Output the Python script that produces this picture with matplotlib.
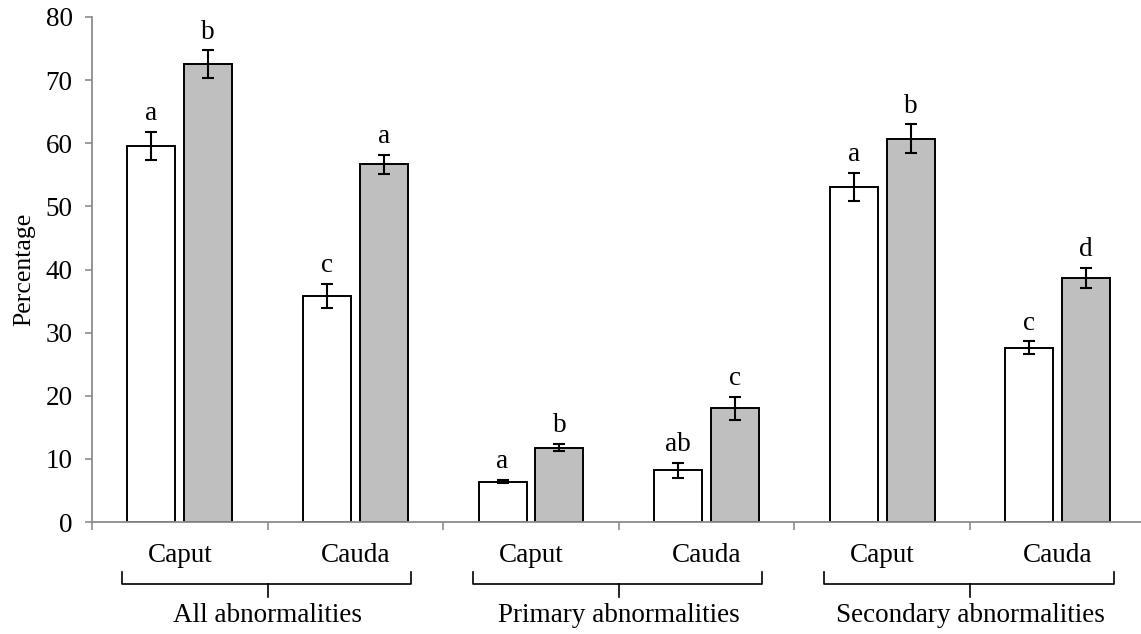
import matplotlib
matplotlib.use("Agg")
import matplotlib.pyplot as plt
import numpy as np

plt.rcParams['font.family'] = ['Liberation Serif', 'DejaVu Serif']

groups = ["All abnormalities", "Primary abnormalities", "Secondary abnormalities"]
regions = ["Caput", "Cauda", "Caput", "Cauda", "Caput", "Cauda"]
white_vals = [59.6, 35.8, 6.4, 8.2, 53.1, 27.6]
white_err = [2.2, 1.9, 0.3, 1.2, 2.2, 1.0]
grey_vals = [72.5, 56.7, 11.8, 18.0, 60.7, 38.6]
grey_err = [2.2, 1.5, 0.6, 1.8, 2.3, 1.6]
white_letters = ["a", "c", "a", "ab", "a", "c"]
grey_letters = ["b", "a", "b", "c", "b", "d"]
yticks = [0, 10, 20, 30, 40, 50, 60, 70, 80]

FS = 19.5
W, H = 1141, 634
fig = plt.figure(figsize=(W / 100, H / 100), dpi=100)
ax_left, ax_bottom = 92 / W, 1 - 522 / H
ax_right = 1145.6 / W
ax_top = 1 - 17 / H
ax = fig.add_axes([ax_left, ax_bottom, ax_right - ax_left, ax_top - ax_bottom])

x = np.arange(len(regions)) + 0.5
off = 0.162
bw = 0.273
axis_grey = "#8c8c8c"

ax.bar(x - off, white_vals, bw, color="white", edgecolor="black", linewidth=1.4, zorder=2)
ax.bar(x + off, grey_vals, bw, color="#bfbfbf", edgecolor="black", linewidth=1.4, zorder=2)
ax.errorbar(x - off, white_vals, yerr=white_err, fmt="none", ecolor="black",
            elinewidth=1.5, capsize=4.5, capthick=1.5, zorder=3)
ax.errorbar(x + off, grey_vals, yerr=grey_err, fmt="none", ecolor="black",
            elinewidth=1.5, capsize=4.5, capthick=1.5, zorder=3)

for xi, v, e, t in zip(x - off, white_vals, white_err, white_letters):
    ax.annotate(t, (xi, v + e), xytext=(0, 8.5), textcoords="offset points",
                ha="center", va="baseline", fontsize=FS)
for xi, v, e, t in zip(x + off, grey_vals, grey_err, grey_letters):
    ax.annotate(t, (xi, v + e), xytext=(0, 8.5), textcoords="offset points",
                ha="center", va="baseline", fontsize=FS)

ax.set_xlim(0, 6)
ax.set_ylim(0, 80)
ax.set_yticks(yticks)
ax.set_yticklabels([str(t) for t in yticks], fontsize=FS)
ax.set_xticks(np.arange(0, 7))
ax.set_xticklabels([])
ax.tick_params(axis="y", direction="out", length=5, width=1.2, color=axis_grey, pad=9)
ax.tick_params(axis="x", direction="out", length=6, width=1.2, color=axis_grey)

for s in ["top", "right"]:
    ax.spines[s].set_visible(False)
for s in ["left", "bottom"]:
    ax.spines[s].set_color(axis_grey)
    ax.spines[s].set_linewidth(1.3)

trans = ax.get_xaxis_transform()


def yfrac(py):
    return -(py - 522) / (522 - 17)


# Region labels (Caput / Cauda)
for xi, r in zip(x, regions):
    ax.text(xi, yfrac(555), r, transform=trans, ha="center",
            va="center", fontsize=FS, clip_on=False)

# Brackets and group labels
for gi, g in enumerate(groups):
    left = x[2 * gi] - 0.33
    right = x[2 * gi + 1] + 0.318
    mid = (x[2 * gi] + x[2 * gi + 1]) / 2
    ax.plot([left, left, right, right], [yfrac(572), yfrac(584), yfrac(584), yfrac(572)],
            color="black", lw=1.2, transform=trans, clip_on=False)
    ax.plot([mid, mid], [yfrac(584), yfrac(597)], color="black", lw=1.2,
            transform=trans, clip_on=False)
    ax.text(mid, yfrac(615), g, transform=trans, ha="center", va="center",
            fontsize=FS, clip_on=False)

fig.text(24 / W, 1 - 269 / H, "Percentage", rotation=90, ha="center", va="center",
         fontsize=18.5)

fig.savefig("out.png", dpi=100)
